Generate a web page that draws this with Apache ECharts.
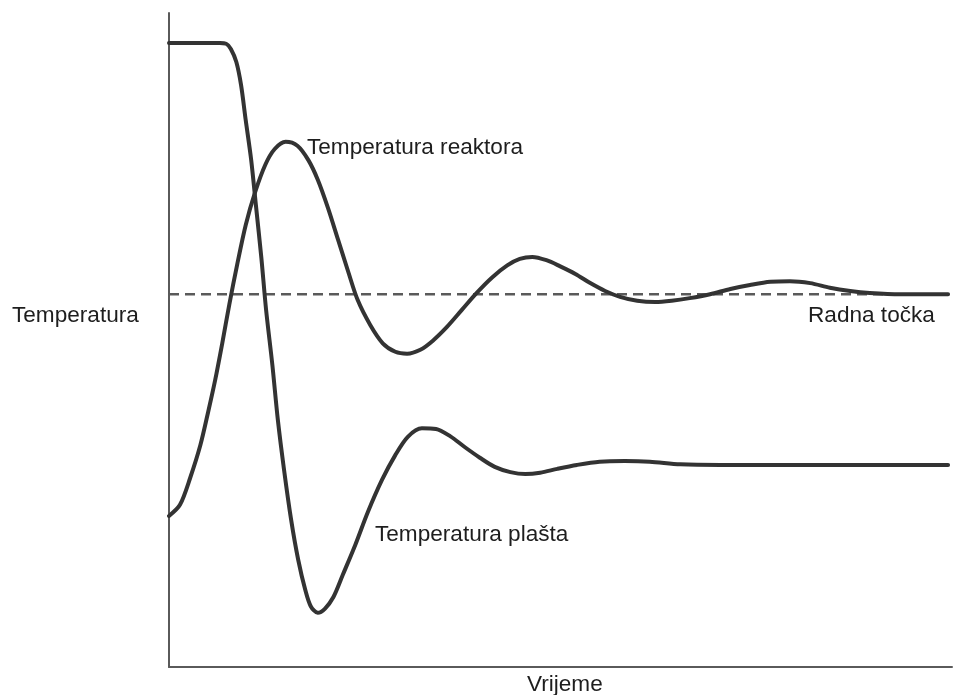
<!DOCTYPE html>
<html>
<head>
<meta charset="utf-8">
<script src="https://cdn.jsdelivr.net/npm/echarts@6/dist/echarts.min.js"></script>
<style>
html,body{margin:0;padding:0;background:#fff;}
#chart{width:953px;height:695px;}
</style>
</head>
<body>
<div id="chart"></div>
<script>
// Time (arbitrary units 0-100) and temperature (arbitrary units 0-100)
var reactorTime = [0, 1.4, 2.7, 4.0, 5.0, 5.9, 6.8, 7.7, 8.7, 9.8, 11.0, 12.3, 13.5, 14.9, 16.4, 17.8, 19.0, 20.3, 21.6, 22.9, 24.1, 25.7, 27.3, 28.9, 30.4, 32.1, 33.7, 35.5, 37.4, 39.3, 41.3, 43.2, 44.8, 46.4, 48.2, 49.9, 51.9, 53.8, 55.7, 57.6, 59.8, 62.1, 64.2, 66.5, 69.1, 71.7, 74.2, 76.8, 79.3, 81.9, 84.4, 87.0, 89.5, 93.4, 99.5];
var reactorTemp = [23.1, 24.8, 28.9, 33.9, 39.0, 43.9, 49.5, 55.4, 61.5, 67.6, 72.6, 76.8, 79.2, 80.3, 79.7, 77.5, 74.5, 70.2, 65.3, 60.4, 56.1, 52.3, 49.5, 48.2, 47.9, 48.5, 49.9, 52.0, 54.6, 57.2, 59.6, 61.4, 62.4, 62.7, 62.2, 61.3, 60.1, 58.7, 57.5, 56.6, 56.0, 55.8, 56.0, 56.4, 57.0, 57.8, 58.4, 58.9, 59.0, 58.7, 58.0, 57.5, 57.2, 57.0, 57.0];

var jacketTime = [0, 4.0, 6.5, 7.3, 7.9, 8.6, 9.2, 9.8, 10.5, 11.1, 11.8, 12.4, 13.2, 13.9, 14.7, 15.6, 16.5, 17.4, 18.1, 19.0, 19.9, 21.0, 22.2, 23.8, 25.4, 27.2, 28.9, 30.5, 32.3, 34.1, 35.9, 37.8, 39.7, 41.6, 43.6, 45.5, 47.4, 49.6, 52.1, 55.0, 58.2, 61.4, 65.3, 70.4, 80.6, 99.5];
var jacketTemp = [95.4, 95.4, 95.4, 95.3, 94.5, 92.5, 89.0, 83.6, 77.5, 70.6, 62.5, 54.6, 46.2, 37.8, 30.1, 22.5, 16.4, 11.8, 9.3, 8.3, 8.9, 10.7, 14.1, 18.7, 23.7, 28.6, 32.4, 35.2, 36.5, 36.4, 35.3, 33.6, 32.0, 30.6, 29.8, 29.5, 29.7, 30.3, 30.9, 31.4, 31.5, 31.4, 31.0, 30.9, 30.9, 30.9];

var setpointTime = [0, 99.5];
var setpointTemp = [57, 57];

var labels = {
  yName: 'Temperatura',
  xName: 'Vrijeme',
  reactor: 'Temperatura reaktora',
  jacket: 'Temperatura plašta',
  setpoint: 'Radna točka'
};

function zip(a, b) { return a.map(function (v, i) { return [v, b[i]]; }); }

var FONT = '22.6px "Liberation Sans", Arial, sans-serif';
var TXT = '#1e1e1e';

var chart = echarts.init(document.getElementById('chart'), null, { renderer: 'canvas' });
chart.setOption({
  animation: false,
  backgroundColor: '#ffffff',
  grid: { left: 169, right: 1, top: 13, bottom: 28, containLabel: false },
  xAxis: {
    type: 'value', min: 0, max: 100,
    axisLine: { show: true, onZero: false, lineStyle: { color: '#5a5a5a', width: 2 } },
    axisTick: { show: false }, axisLabel: { show: false }, splitLine: { show: false }
  },
  yAxis: {
    type: 'value', min: 0, max: 100,
    axisLine: { show: true, onZero: false, lineStyle: { color: '#5a5a5a', width: 2 } },
    axisTick: { show: false }, axisLabel: { show: false }, splitLine: { show: false }
  },
  series: [
    {
      name: labels.setpoint, type: 'line', data: zip(setpointTime, setpointTemp),
      symbol: 'none', silent: true,
      lineStyle: { color: '#5a5a5a', width: 2.5, type: [10, 6] }, z: 1
    },
    {
      name: labels.reactor, type: 'line', data: zip(reactorTime, reactorTemp),
      symbol: 'none', smooth: 0.3, silent: true,
      lineStyle: { color: '#333333', width: 4, cap: 'round', join: 'round' }, z: 3
    },
    {
      name: labels.jacket, type: 'line', data: zip(jacketTime, jacketTemp),
      symbol: 'none', smooth: 0.3, silent: true,
      lineStyle: { color: '#333333', width: 4, cap: 'round', join: 'round' }, z: 3
    }
  ],
  graphic: [
    { type: 'text', x: 12, y: 316, style: { text: labels.yName, font: FONT, fill: TXT, textAlign: 'left', textVerticalAlign: 'middle' } },
    { type: 'text', x: 527, y: 685, style: { text: labels.xName, font: FONT, fill: TXT, textAlign: 'left', textVerticalAlign: 'middle' } },
    { type: 'text', x: 307, y: 148, style: { text: labels.reactor, font: FONT, fill: TXT, textAlign: 'left', textVerticalAlign: 'middle' } },
    { type: 'text', x: 375, y: 535, style: { text: labels.jacket, font: FONT, fill: TXT, textAlign: 'left', textVerticalAlign: 'middle' } },
    { type: 'text', x: 808, y: 316, style: { text: labels.setpoint, font: FONT, fill: TXT, textAlign: 'left', textVerticalAlign: 'middle' } }
  ]
});
</script>
</body>
</html>
